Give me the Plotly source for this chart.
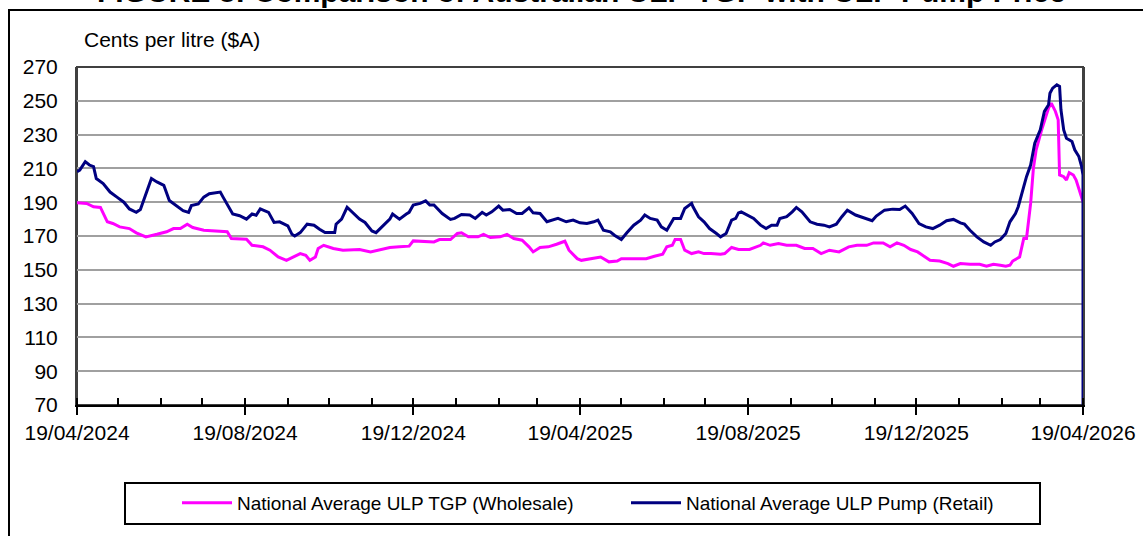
import plotly.graph_objects as go

# ---------------- data ----------------
retail_dates = [
    "2024-04-19", "2024-04-21", "2024-04-25", "2024-04-28", "2024-05-01", "2024-05-03", "2024-05-08",
    "2024-05-13", "2024-05-18", "2024-05-23", "2024-05-27", "2024-06-01", "2024-06-04", "2024-06-07",
    "2024-06-12", "2024-06-16", "2024-06-21", "2024-06-25", "2024-06-30", "2024-07-05", "2024-07-09",
    "2024-07-11", "2024-07-16", "2024-07-20", "2024-07-24", "2024-08-01", "2024-08-03", "2024-08-07",
    "2024-08-10", "2024-08-15", "2024-08-20", "2024-08-24", "2024-08-27", "2024-08-30", "2024-09-05",
    "2024-09-09", "2024-09-13", "2024-09-19", "2024-09-22", "2024-09-24", "2024-09-28", "2024-10-03",
    "2024-10-08", "2024-10-12", "2024-10-16", "2024-10-20", "2024-10-23", "2024-10-24", "2024-10-28",
    "2024-11-01", "2024-11-05", "2024-11-10", "2024-11-14", "2024-11-19", "2024-11-22", "2024-11-27",
    "2024-12-02", "2024-12-04", "2024-12-09", "2024-12-14", "2024-12-16", "2024-12-19", "2024-12-24",
    "2024-12-28", "2024-12-31", "2025-01-03", "2025-01-09", "2025-01-15", "2025-01-18", "2025-01-23",
    "2025-01-29", "2025-02-02", "2025-02-07", "2025-02-10", "2025-02-14", "2025-02-19", "2025-02-22",
    "2025-02-27", "2025-03-04", "2025-03-08", "2025-03-13", "2025-03-16", "2025-03-21", "2025-03-26",
    "2025-03-31", "2025-04-03", "2025-04-09", "2025-04-14", "2025-04-19", "2025-04-24", "2025-04-29",
    "2025-05-02", "2025-05-06", "2025-05-11", "2025-05-14", "2025-05-19", "2025-05-23", "2025-05-28",
    "2025-06-02", "2025-06-05", "2025-06-09", "2025-06-14", "2025-06-17", "2025-06-21", "2025-06-26",
    "2025-07-01", "2025-07-04", "2025-07-09", "2025-07-10", "2025-07-14", "2025-07-18", "2025-07-22",
    "2025-07-27", "2025-07-30", "2025-08-03", "2025-08-07", "2025-08-10", "2025-08-12", "2025-08-14",
    "2025-08-19", "2025-08-23", "2025-08-28", "2025-09-01", "2025-09-05", "2025-09-09", "2025-09-11",
    "2025-09-16", "2025-09-20", "2025-09-23", "2025-09-27", "2025-10-03", "2025-10-08", "2025-10-13",
    "2025-10-17", "2025-10-22", "2025-10-26", "2025-10-30", "2025-11-05", "2025-11-09", "2025-11-13",
    "2025-11-17", "2025-11-20", "2025-11-26", "2025-12-02", "2025-12-07", "2025-12-11", "2025-12-16",
    "2025-12-21", "2025-12-26", "2025-12-31", "2026-01-05", "2026-01-10", "2026-01-15", "2026-01-20",
    "2026-01-23", "2026-01-27", "2026-02-01", "2026-02-06", "2026-02-11", "2026-02-14", "2026-02-18",
    "2026-02-22", "2026-02-25", "2026-03-01", "2026-03-03", "2026-03-07", "2026-03-09", "2026-03-12",
    "2026-03-15", "2026-03-19", "2026-03-22", "2026-03-25", "2026-03-26", "2026-03-28", "2026-03-31",
    "2026-04-02", "2026-04-03", "2026-04-05", "2026-04-07", "2026-04-11", "2026-04-13", "2026-04-16",
    "2026-04-18", "2026-04-19", "2026-04-19",
]
retail_values = [
    208, 209, 214, 212, 211, 204, 201,
    196, 193, 190, 186, 184, 185.7, 193,
    204, 202, 200, 191, 188, 185, 184,
    188, 189, 193, 195, 196, 193, 187,
    183, 182, 180, 183, 182.3, 186, 184,
    178, 178.4, 176, 171, 170, 172, 177,
    176.4, 174, 172, 172, 172, 177, 180,
    187, 184, 180, 178, 173, 172, 176,
    180, 183, 180, 183, 184, 188.3, 189.3,
    190.8, 188.3, 188.3, 183.3, 179.8, 180.4, 182.7,
    182.4, 180.4, 184, 182.4, 184.3, 187.7, 185.3,
    185.7, 183.3, 183.3, 186.7, 183.7, 183.3, 178.4,
    179.4, 180.4, 178.4, 179.4, 177.8, 177.4, 178.4,
    179.4, 173.4, 172.5, 170.5, 167.9, 171.9, 176.4,
    179.4, 182.4, 180.4, 179.4, 175.4, 173.4, 180.4,
    180.4, 186.3, 189.3, 187.3, 181.4, 178.4, 174.4,
    171.5, 169.5, 171.5, 179.4, 180.4, 183.7, 184.3,
    182.4, 180.4, 176.4, 174.4, 176.4, 176.4, 180.4,
    181.4, 184.3, 186.9, 184.3, 178.4, 177, 176.4,
    175.4, 177, 181.4, 185.3, 182.4, 181.4, 180.4,
    179, 181.8, 185.3, 185.9, 185.7, 187.7, 183.3,
    177.4, 175.4, 174.4, 176.4, 179, 179.8, 177.8,
    177, 173.4, 169.5, 166.5, 164.5, 166.5, 167.9,
    171.5, 178.4, 183.3, 187.3, 199.2, 205.1, 212,
    224.9, 232.8, 243.7, 247.6, 254.5, 257.5, 259.5,
    258.5, 244.7, 232.8, 227.8, 225.9, 221, 217,
    211, 206.1, 0,
]

tgp_dates = [
    "2024-04-19", "2024-04-26", "2024-05-01", "2024-05-06", "2024-05-11", "2024-05-15", "2024-05-20",
    "2024-05-27", "2024-06-01", "2024-06-08", "2024-06-16", "2024-06-23", "2024-06-28", "2024-07-03",
    "2024-07-08", "2024-07-12", "2024-07-20", "2024-07-27", "2024-08-06", "2024-08-09", "2024-08-20",
    "2024-08-24", "2024-09-01", "2024-09-06", "2024-09-12", "2024-09-18", "2024-09-23", "2024-09-28",
    "2024-10-02", "2024-10-05", "2024-10-09", "2024-10-11", "2024-10-15", "2024-10-22", "2024-10-29",
    "2024-11-05", "2024-11-10", "2024-11-18", "2024-11-25", "2024-12-02", "2024-12-09", "2024-12-16",
    "2024-12-19", "2024-12-29", "2025-01-03", "2025-01-07", "2025-01-15", "2025-01-20", "2025-01-23",
    "2025-01-28", "2025-02-04", "2025-02-08", "2025-02-13", "2025-02-20", "2025-02-25", "2025-03-02",
    "2025-03-08", "2025-03-13", "2025-03-16", "2025-03-21", "2025-03-27", "2025-04-02", "2025-04-08",
    "2025-04-11", "2025-04-17", "2025-04-20", "2025-04-26", "2025-05-04", "2025-05-10", "2025-05-16",
    "2025-05-19", "2025-05-28", "2025-06-06", "2025-06-12", "2025-06-18", "2025-06-21", "2025-06-25",
    "2025-06-27", "2025-07-01", "2025-07-04", "2025-07-09", "2025-07-14", "2025-07-18", "2025-07-23",
    "2025-07-30", "2025-08-02", "2025-08-07", "2025-08-12", "2025-08-20", "2025-08-28", "2025-08-30",
    "2025-09-04", "2025-09-10", "2025-09-16", "2025-09-23", "2025-09-29", "2025-10-05", "2025-10-11",
    "2025-10-17", "2025-10-24", "2025-10-31", "2025-11-06", "2025-11-13", "2025-11-18", "2025-11-25",
    "2025-11-30", "2025-12-05", "2025-12-10", "2025-12-15", "2025-12-20", "2025-12-24", "2025-12-29",
    "2026-01-05", "2026-01-11", "2026-01-15", "2026-01-20", "2026-01-27", "2026-02-03", "2026-02-08",
    "2026-02-13", "2026-02-18", "2026-02-22", "2026-02-25", "2026-02-27", "2026-03-04", "2026-03-07",
    "2026-03-09", "2026-03-12", "2026-03-14", "2026-03-16", "2026-03-20", "2026-03-22", "2026-03-25",
    "2026-03-27", "2026-03-30", "2026-04-01", "2026-04-02", "2026-04-05", "2026-04-07", "2026-04-09",
    "2026-04-12", "2026-04-14", "2026-04-17", "2026-04-19",
]
tgp_values = [
    189.7, 189.3, 187.3, 186.9, 178.4, 177.4, 175.4,
    174.4, 171.9, 169.5, 171, 172.5, 174.4, 174.4,
    177, 175, 173.4, 172.9, 172.5, 168.5, 168.1,
    164.5, 163.6, 161.6, 157.6, 155.6, 157.6, 159.6,
    158.6, 155.6, 157.6, 162.6, 164.5, 162.6, 161.6,
    161.6, 162, 160.6, 162, 163.2, 163.6, 164,
    167.1, 166.9, 166.5, 167.9, 167.9, 171.5, 171.9,
    169.5, 169.5, 170.9, 169.1, 169.5, 170.9, 168.5,
    167.5, 163.6, 160.6, 163.2, 163.6, 165.1, 166.9,
    161.6, 156.6, 155.6, 156.6, 157.6, 154.7, 155.2,
    156.6, 156.6, 156.6, 158, 159.2, 163.6, 164.5,
    167.9, 167.9, 161.6, 159.6, 160.6, 159.6, 159.6,
    159.2, 159.6, 163.2, 162, 162, 164.5, 165.9,
    164.5, 165.5, 164.5, 164.5, 162.6, 162.6, 159.6,
    161.6, 160.6, 163.6, 164.5, 164.5, 165.9, 165.9,
    163.6, 165.9, 164.5, 162, 160.6, 158.6, 155.6,
    155.2, 153.7, 152.1, 153.7, 153.3, 153.3, 152.1,
    153.3, 152.7, 152.1, 152.7, 155.2, 157.6, 168.5,
    168.5, 189.3, 210, 221, 232.8, 237.7, 245.7,
    248.6, 243.7, 238.7, 206.1, 205.1, 203.1, 207.5,
    206.1, 203.1, 195.2, 190.3,
]

series_names = ["National Average ULP TGP (Wholesale)", "National Average ULP Pump (Retail)"]
series_colors = ["#FF00FF", "#000080"]

title_text = "FIGURE 8: Comparison of Australian ULP TGP with ULP Pump Price"
y_title = "Cents per litre ($A)"
x_start, x_end = "2024-04-19", "2026-04-19"
y_min, y_max, y_step = 70, 270, 20

FONT = "Arial, 'Liberation Sans', sans-serif"

# ---------------- figure ----------------
W, H = 1143, 536
ML, MR, MT, MB = 77, 60, 67, 131
PW, PH = W - ML - MR, H - MT - MB


def px_x(px):
    return (px - ML) / PW


def px_y(py):
    return (H - MB - py) / PH


fig = go.Figure()
fig.add_trace(go.Scatter(x=tgp_dates, y=tgp_values, mode="lines", name=series_names[0],
                         line=dict(color=series_colors[0], width=3)))
fig.add_trace(go.Scatter(x=retail_dates, y=retail_values, mode="lines", name=series_names[1],
                         line=dict(color=series_colors[1], width=3)))

fig.update_layout(
    width=W, height=H,
    margin=dict(l=ML, r=MR, t=MT, b=MB, pad=0, autoexpand=False),
    paper_bgcolor="white", plot_bgcolor="white",
    font=dict(family=FONT, color="black", size=21),
    showlegend=True,
    legend=dict(orientation="h", x=px_x(177), xanchor="left", y=px_y(484), yanchor="top",
                font=dict(size=19, family=FONT), bgcolor="rgba(0,0,0,0)", borderwidth=0,
                itemwidth=50, entrywidth=384, entrywidthmode="pixels", tracegroupgap=0),
    xaxis=dict(type="date", range=[x_start, x_end], tick0=x_start, dtick="M4",
               tickformat="%d/%m/%Y", showgrid=False, zeroline=False, automargin=False,
               showline=True, linecolor="black", linewidth=2,
               ticks="outside", ticklen=8, tickwidth=2, tickcolor="black",
               tickfont=dict(size=21, family=FONT),
               minor=dict(ticks="inside", ticklen=7, tickwidth=2, tickcolor="black",
                          dtick="M1", tick0=x_start, showgrid=False)),
    yaxis=dict(range=[y_min, y_max], tick0=y_min, dtick=y_step, showgrid=True,
               gridcolor="#a0a0a0", gridwidth=2, zeroline=False, automargin=False,
               showline=True, linecolor="#404040", linewidth=2, mirror=True,
               ticks="", ticklabelstandoff=13, tickfont=dict(size=21, family=FONT)),
)

# plot-area frame (top edge)
fig.add_shape(type="rect", xref="paper", yref="paper", x0=0, x1=1, y0=0, y1=1,
              line=dict(color="#404040", width=2), layer="between")
# outer chart border
fig.add_shape(type="rect", xref="paper", yref="paper",
              x0=px_x(9), x1=px_x(1160), y0=px_y(560), y1=px_y(10),
              line=dict(color="black", width=2), layer="above")
# legend border
fig.add_shape(type="rect", xref="paper", yref="paper",
              x0=px_x(125), x1=px_x(1040), y0=px_y(524), y1=px_y(483),
              line=dict(color="black", width=2), layer="above")

# title (mostly cut off at top of the picture)
fig.add_annotation(text="<b>" + title_text + "</b>", xref="paper", yref="paper",
                   x=px_x(581), y=px_y(9.5), xanchor="center", yanchor="bottom",
                   showarrow=False, font=dict(size=30, family=FONT, color="black"))
# y-axis unit label
fig.add_annotation(text=y_title, xref="paper", yref="paper",
                   x=px_x(82), y=px_y(40), xanchor="left", yanchor="middle",
                   showarrow=False, font=dict(size=21, family=FONT, color="black"))

fig.write_html("out.html", config={"displayModeBar": False},
               post_script="document.body.style.margin='0';")
